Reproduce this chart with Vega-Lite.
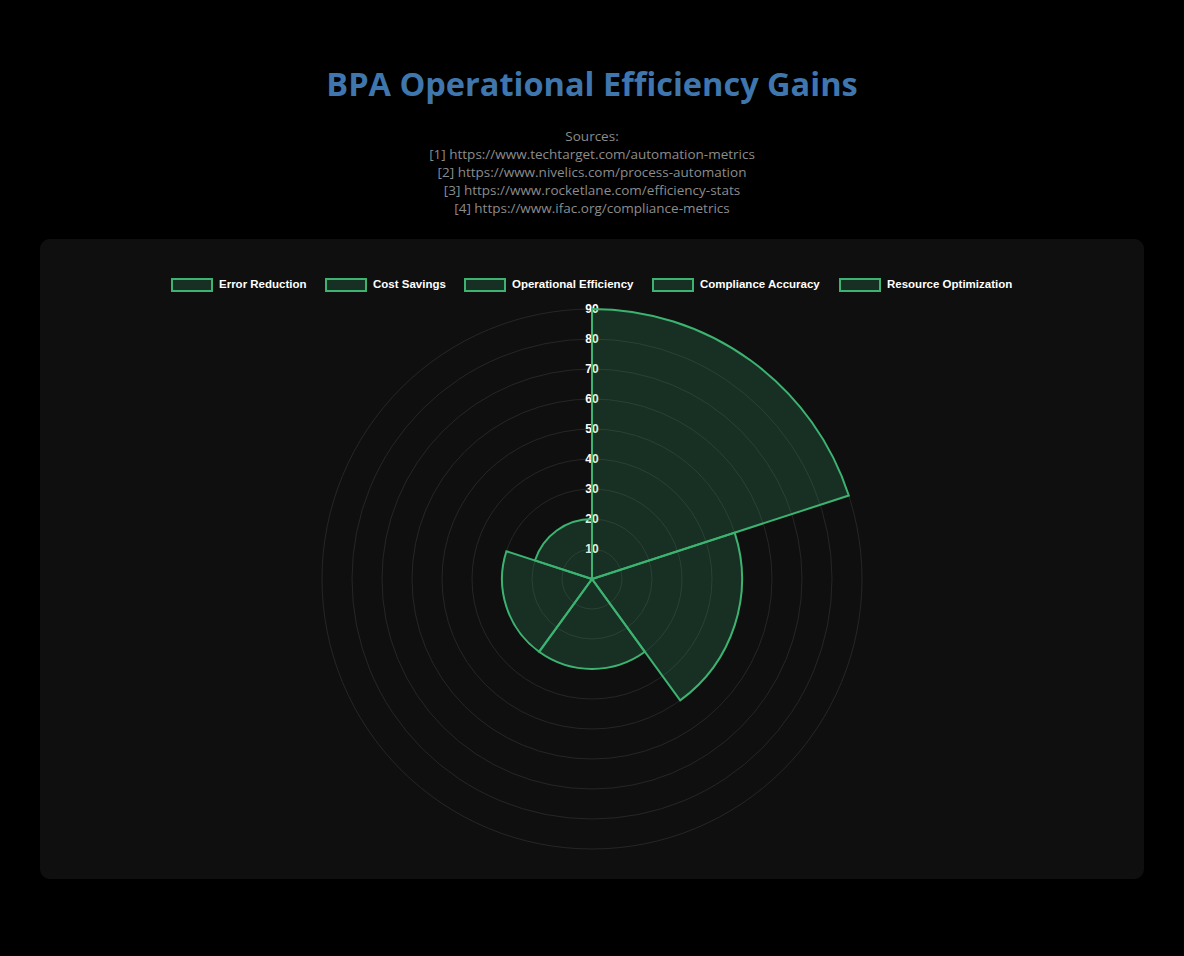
{
  "$schema": "https://vega.github.io/schema/vega-lite/v6.json",
  "description": "BPA Operational Efficiency Gains - polar area",
  "width": 1104,
  "height": 640,
  "autosize": {"type": "none"},
  "padding": {"left": 40, "top": 239, "right": 40, "bottom": 77},
  "background": "#000000",
  "view": {"fill": "#0f0f0f", "stroke": null, "cornerRadius": 10},
  "title": {
    "text": "BPA Operational Efficiency Gains",
    "subtitle": [
      "Sources:",
      "[1] https://www.techtarget.com/automation-metrics",
      "[2] https://www.nivelics.com/process-automation",
      "[3] https://www.rocketlane.com/efficiency-stats",
      "[4] https://www.ifac.org/compliance-metrics"
    ],
    "anchor": "middle",
    "frame": "group",
    "offset": 24,
    "font": "Open Sans",
    "fontSize": 32.5,
    "fontWeight": "bold",
    "color": "#3f76ad",
    "subtitleFont": "Open Sans",
    "subtitleFontSize": 13.5,
    "subtitleColor": "#8c8c8c",
    "subtitleLineHeight": 18,
    "subtitlePadding": 27
  },
  "datasets": {
    "metrics": [
      {"category": "Error Reduction", "value": 90, "rank": 1},
      {"category": "Cost Savings", "value": 50, "rank": 2},
      {"category": "Operational Efficiency", "value": 30, "rank": 3},
      {"category": "Compliance Accuracy", "value": 30, "rank": 4},
      {"category": "Resource Optimization", "value": 20, "rank": 5}
    ],
    "ticks": [
      {"v": 10}, {"v": 20}, {"v": 30}, {"v": 40}, {"v": 50},
      {"v": 60}, {"v": 70}, {"v": 80}, {"v": 90}
    ]
  },
  "layer": [
    {
      "data": {"name": "ticks"},
      "mark": {
        "type": "point",
        "shape": "circle",
        "filled": false,
        "stroke": "#262626",
        "strokeWidth": 1,
        "opacity": 1,
        "yOffset": 20
      },
      "encoding": {
        "size": {
          "field": "v",
          "type": "quantitative",
          "scale": {"type": "pow", "exponent": 2, "domain": [0, 90], "range": [0, 291600], "zero": true, "nice": false},
          "legend": null
        }
      }
    },
    {
      "data": {"name": "ticks"},
      "mark": {
        "type": "text",
        "theta": 0,
        "font": "Liberation Sans",
        "fontSize": 12,
        "fontWeight": "bold",
        "color": "#ffffff",
        "align": "center",
        "baseline": "middle",
        "yOffset": 20
      },
      "encoding": {
        "radius": {
          "field": "v",
          "type": "quantitative",
          "scale": {"type": "linear", "domain": [0, 90], "range": [0, 270], "zero": true, "nice": false}
        },
        "text": {"field": "v", "type": "quantitative"}
      }
    },
    {
      "data": {"name": "metrics"},
      "transform": [
        {"aggregate": [{"op": "count", "as": "n"}], "groupby": ["category", "value", "rank"]},
        {"stack": "n", "groupby": [], "sort": [{"field": "rank", "order": "ascending"}], "as": ["t0", "t1"]}
      ],
      "mark": {
        "type": "arc",
        "stroke": "#3cb371",
        "strokeWidth": 2,
        "fillOpacity": 0.2,
        "yOffset": 20,
        "tooltip": true
      },
      "encoding": {
        "theta": {"field": "t0", "type": "quantitative", "stack": null, "scale": {"domain": [0, 5], "zero": true, "nice": false}},
        "theta2": {"field": "t1"},
        "radius": {"field": "value", "type": "quantitative"},
        "color": {
          "field": "category",
          "type": "nominal",
          "scale": {
            "domain": ["Error Reduction", "Cost Savings", "Operational Efficiency", "Compliance Accuracy", "Resource Optimization"],
            "range": ["#3cb371", "#3cb371", "#3cb371", "#3cb371", "#3cb371"]
          },
          "legend": {
            "title": null,
            "orient": "none",
            "direction": "horizontal",
            "legendX": 131,
            "legendY": 25,
            "symbolType": "M-1,-0.3H1V0.3H-1Z",
            "symbolSize": 1600,
            "symbolStrokeColor": "#3cb371",
            "symbolStrokeWidth": 2,
            "labelFont": "Liberation Sans",
            "labelFontSize": 11.5,
            "labelFontWeight": "bold",
            "labelColor": "#ffffff",
            "labelOffset": 6,
            "columnPadding": 15,
            "encode": {
              "symbols": {"update": {"fillOpacity": {"value": 0.2}, "stroke": {"value": "#3cb371"}, "strokeWidth": {"value": 2}}}
            }
          }
        }
      }
    }
  ]
}
